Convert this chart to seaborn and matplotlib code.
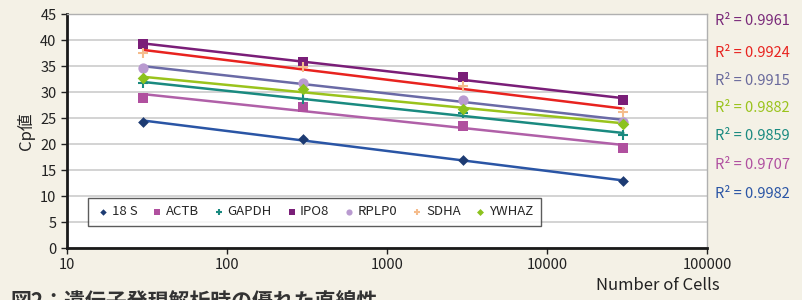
import numpy as np
import pandas as pd
import matplotlib
matplotlib.use("Agg")
import matplotlib.pyplot as plt
import seaborn as sns

# Step 1: data
cells = [30, 300, 3000, 30000]
genes = ["18 S", "ACTB", "GAPDH", "IPO8", "RPLP0", "SDHA", "YWHAZ"]
cp_18s = [24.3, 20.9, 17.0, 12.8]
cp_actb = [28.9, 27.2, 23.4, 19.3]
cp_gapdh = [31.7, 28.7, 26.0, 21.7]
cp_ipo8 = [39.2, 35.8, 32.8, 28.5]
cp_rplp0 = [34.7, 31.7, 28.5, 24.3]
cp_sdha = [37.5, 34.9, 31.2, 26.2]
cp_ywhaz = [32.6, 30.5, 26.8, 23.9]
r2_labels = ["0.9961", "0.9924", "0.9915", "0.9882", "0.9859", "0.9707", "0.9982"]

marker_colors = ["#1d3b73", "#b0509f", "#1a8a80", "#7a1e78", "#b99ad0", "#f5bc8c", "#8cc21e"]
line_colors = ["#2a55a5", "#b060a8", "#1a8a80", "#7a1e78", "#6a6aa6", "#e8231f", "#9ac31c"]
markers = ["D", "s", "+", "s", "o", "+", "D"]
sizes = [30, 55, 45, 60, 55, 45, 35]
r2_colors = ["#7a2a7a", "#e8231f", "#6a6a9c", "#9ac31c", "#1a8a80", "#b050a0", "#2a55a5"]

series = [cp_18s, cp_actb, cp_gapdh, cp_ipo8, cp_rplp0, cp_sdha, cp_ywhaz]
df = pd.DataFrame(
    [(g, c, v) for g, vals in zip(genes, series) for c, v in zip(cells, vals)],
    columns=["gene", "cells", "cp"],
)

# Step 2: logarithmic trend lines
fits = []
for g, vals in zip(genes, series):
    k, b = np.polyfit(np.log10(cells), vals, 1)
    for c in cells:
        fits.append((g, c, k * np.log10(c) + b))
df_fit = pd.DataFrame(fits, columns=["gene", "cells", "cp"])

sns.set_style("white")
plt.rcParams["font.family"] = ["Noto Sans CJK JP", "DejaVu Sans"]
bg = "#f4f1e6"

fig = plt.figure(figsize=(8.03, 3.0), dpi=100, facecolor=bg)
ax = fig.add_axes([67 / 803, 52 / 300, 640 / 803, 234 / 300])
ax.set_facecolor("white")

sns.lineplot(
    data=df_fit, x="cells", y="cp", hue="gene", hue_order=genes,
    palette=line_colors, linewidth=1.8, legend=False, ax=ax,
)
for g, m, mc, s in zip(genes, markers, marker_colors, sizes):
    sub = df[df["gene"] == g]
    sns.scatterplot(
        data=sub, x="cells", y="cp", marker=m, color=mc, s=s,
        linewidth=1.5 if m == "+" else 0, edgecolor=mc, label=g, ax=ax, zorder=3,
    )

ax.set_xscale("log")
ax.set_xlim(10, 100000)
ax.set_ylim(0, 45)
ax.set_yticks(range(0, 46, 5))
ax.set_xticks([10, 100, 1000, 10000, 100000])
ax.set_xticklabels(["10", "100", "1000", "10000", "100000"])
ax.minorticks_off()
ax.yaxis.grid(True, color="#cccccc", linewidth=1.2)
ax.set_axisbelow(True)
ax.tick_params(axis="both", labelsize=10.5, colors="#222222", length=4, width=1,
               direction="out", left=True, bottom=True)
for side in ["left", "bottom"]:
    ax.spines[side].set_color("#1a1a1a")
    ax.spines[side].set_linewidth(2)
for side in ["top", "right"]:
    ax.spines[side].set_color("#b0b0b0")
    ax.spines[side].set_linewidth(1)

ax.set_xlabel("")
ax.set_ylabel("Cp値", fontsize=12, color="#222222", labelpad=4)
fig.text(720 / 803, 1 - 286 / 300, "Number of Cells", ha="right", va="center",
         fontsize=12, color="#222222")

leg = ax.legend(
    loc="lower left", bbox_to_anchor=(14 / 640, 15 / 234), ncol=7, fontsize=9.5,
    frameon=True, fancybox=False, handletextpad=0.05, columnspacing=0.9,
    markerscale=0.6, borderpad=0.6, handlelength=1.2,
)
leg.get_frame().set_edgecolor("#333333")
leg.get_frame().set_linewidth(1)

r2_y = [21, 53, 81, 108, 136, 165, 194]
for lab, yy, col in zip(r2_labels, r2_y, r2_colors):
    fig.text(715 / 803, 1 - yy / 300, "R² = " + lab, ha="left", va="center",
             fontsize=10.5, color=col)

fig.text(10 / 803, 1 - 291 / 300, "図2：遺伝子発現解析時の優れた直線性", ha="left",
         va="top", fontsize=15, fontweight="bold", color="#333333")

fig.savefig("out.png", dpi=100, facecolor=bg)
